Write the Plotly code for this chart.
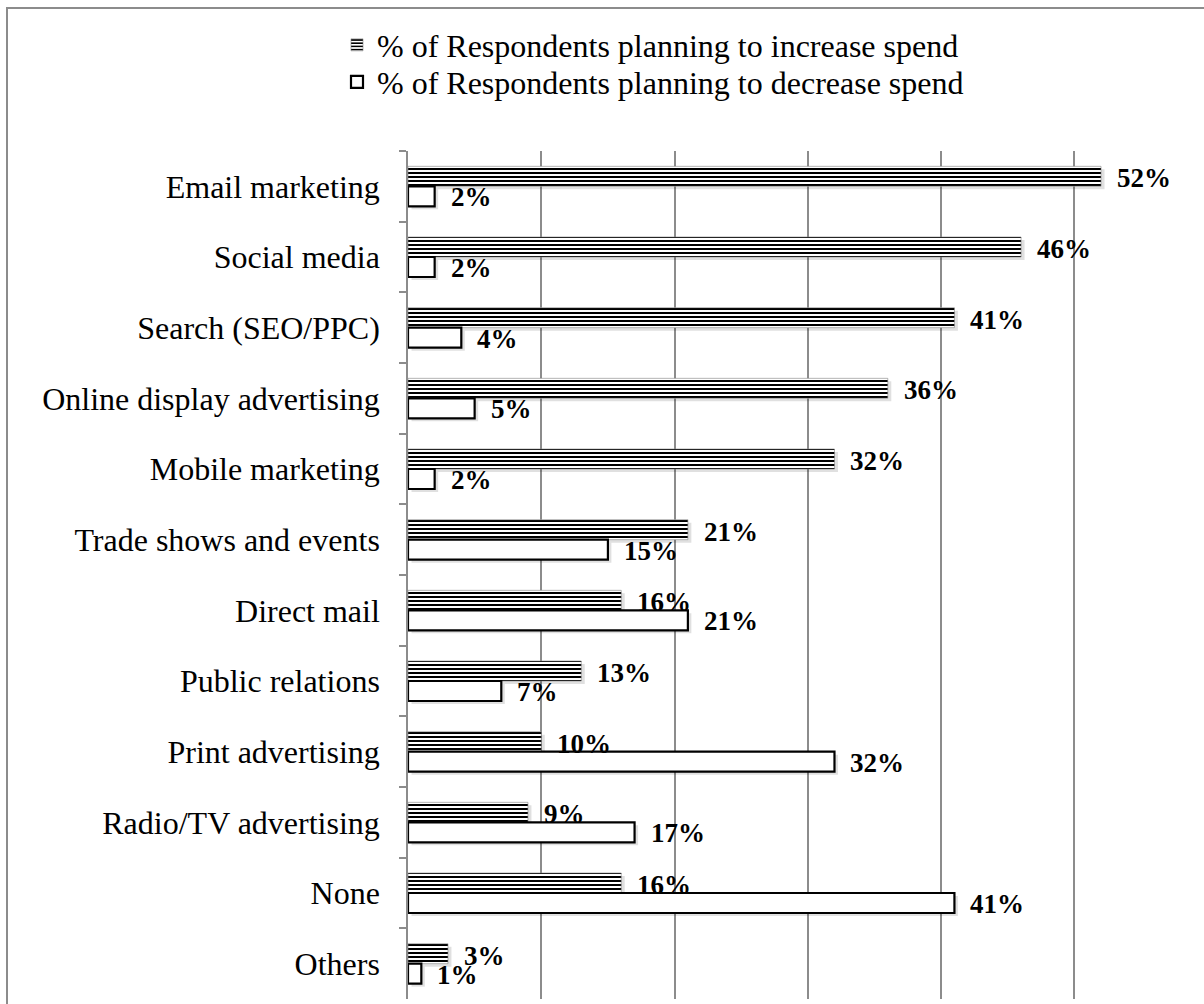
import plotly.graph_objects as go

categories = [
    "Email marketing", "Social media", "Search (SEO/PPC)",
    "Online display advertising", "Mobile marketing",
    "Trade shows and events", "Direct mail", "Public relations",
    "Print advertising", "Radio/TV advertising", "None", "Others",
]
increase_pct = [52, 46, 41, 36, 32, 21, 16, 13, 10, 9, 16, 3]
decrease_pct = [2, 2, 4, 5, 2, 15, 21, 7, 32, 17, 41, 1]
series_names = [
    "% of Respondents planning to increase spend",
    "% of Respondents planning to decrease spend",
]

W, H = 1204, 1004
L, R, T, B = 408, 23, 151, 5
X_MAX = 58
plot_w = W - L - R
plot_h = H - T - B
band_px = plot_h / len(categories)
bar_w = 20 / band_px          # bar thickness in category units
sh_dy = 3 / band_px           # shadow drop
sh_dx = 3.5 * X_MAX / plot_w  # shadow shift in % units

FONT = "Liberation Serif, Times New Roman, serif"
GREY = "#8c8c8c"

fig = go.Figure()

# soft drop shadows behind both series
for vals, off in ((increase_pct, -bar_w), (decrease_pct, 0.0)):
    fig.add_trace(go.Bar(
        y=categories, x=vals, base=sh_dx, orientation="h",
        width=bar_w, offset=off + sh_dy,
        marker=dict(color="rgba(0,0,0,0.12)", line=dict(width=0)),
        showlegend=False, hoverinfo="skip",
    ))

fig.add_trace(go.Bar(
    name=series_names[0], y=categories, x=increase_pct, orientation="h",
    width=bar_w, offset=-bar_w, legend="legend",
    marker=dict(
        color="white",
        line=dict(color="#7f7f7f", width=0.6),
        pattern=dict(shape="-", size=4, solidity=0.5,
                     fgcolor="black", bgcolor="white",
                     fillmode="replace", fgopacity=1),
    ),
))
fig.add_trace(go.Bar(
    name=series_names[1], y=categories, x=decrease_pct, orientation="h",
    width=bar_w, offset=0.0, legend="legend2",
    marker=dict(color="white", line=dict(color="black", width=2.2)),
))

# data labels at each bar end
annotations = []
for vals, dy in ((increase_pct, 8), (decrease_pct, -11)):
    for cat, v in zip(categories, vals):
        annotations.append(dict(
            x=v, y=cat, text=f"<b>{v}%</b>", showarrow=False,
            xanchor="left", yanchor="middle", xshift=14, yshift=dy,
            font=dict(family=FONT, size=27, color="black")))

# outer chart frame
fx0 = (7 - L) / plot_w
fx1 = (W + 20 - L) / plot_w
fy1 = 1 + (T - 8) / plot_h
fy0 = -(B + 20) / plot_h

legend_common = dict(
    x=337 / W, xanchor="left", xref="container",
    yanchor="middle", yref="container",
    bgcolor="rgba(0,0,0,0)", itemwidth=30,
    font=dict(family=FONT, size=32, color="black"),
)

fig.update_layout(
    width=W, height=H,
    margin=dict(l=L, r=R, t=T, b=B, autoexpand=False),
    paper_bgcolor="white", plot_bgcolor="white",
    barmode="overlay",
    font=dict(family=FONT, size=32, color="black"),
    showlegend=True,
    legend=dict(y=1 - 45 / H, **legend_common),
    legend2=dict(y=1 - 82 / H, **legend_common),
    xaxis=dict(
        range=[0, X_MAX], dtick=10, showgrid=True,
        gridcolor=GREY, gridwidth=1.5,
        showticklabels=False, zeroline=False, showline=False, ticks="",
        fixedrange=True,
    ),
    yaxis=dict(
        autorange="reversed", type="category",
        showline=True, linecolor=GREY, linewidth=1.5,
        ticks="outside", tickson="boundaries", ticklen=7, tickcolor=GREY,
        tickwidth=1.5, ticklabelstandoff=20, showgrid=False,
        tickfont=dict(family=FONT, size=32, color="black"),
    ),
    annotations=annotations,
    shapes=[dict(type="rect", xref="paper", yref="paper",
                 x0=fx0, x1=fx1, y0=fy0, y1=fy1,
                 line=dict(color=GREY, width=2), layer="below")],
)

fig.write_html("out.html")
